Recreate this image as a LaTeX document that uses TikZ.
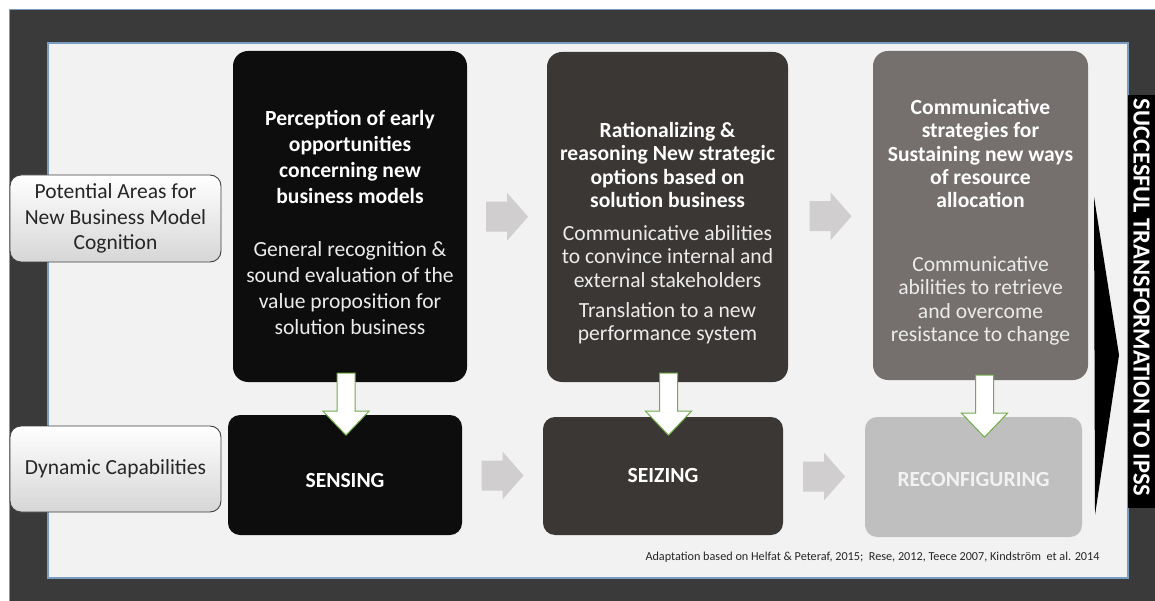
\documentclass[tikz,border=0pt]{standalone}
\usepackage{fontspec}
\setmainfont{Carlito}
\usetikzlibrary{calc}

\definecolor{framegray}{HTML}{3A3A3A}
\definecolor{panelgray}{HTML}{F2F2F2}
\definecolor{edgeblue}{HTML}{7A9CC0}
\definecolor{boxone}{HTML}{0D0D0D}
\definecolor{boxtwo}{HTML}{3B3735}
\definecolor{boxthree}{HTML}{75706E}
\definecolor{boxfour}{HTML}{BFBFBF}
\definecolor{arrowgray}{HTML}{D0CECE}
\definecolor{arrowgreen}{HTML}{70AD47}
\definecolor{lblline}{HTML}{404040}
\definecolor{lblbot}{HTML}{D6D6D6}
\definecolor{lbltext}{HTML}{262626}

\tikzset{
  box/.style={rectangle, rounded corners=15pt, inner sep=0pt},
  lowbox/.style={box, rounded corners=12pt, minimum height=120pt},
  lbl/.style={rectangle, rounded corners=11pt, draw=lblline, line width=0.9pt,
    top color=white, bottom color=lblbot, minimum width=211pt, minimum height=87pt,
    font=\fontsize{21.5}{25.5}\selectfont, text=lbltext, align=center, inner sep=0pt},
  head/.style={font=\fontsize{21.6}{23.3}\selectfont\bfseries, text=white, align=center},
  body/.style={font=\fontsize{21.6}{23.3}\selectfont, text=white!92!black, align=center},
  capword/.style={font=\fontsize{21.6}{24}\selectfont\bfseries, text=white},
  pics/grayarrow/.style={code={
    \fill[arrowgray] (-21,-15) -- (0,-15) -- (0,-24) -- (21,0) -- (0,24) -- (0,15) -- (-21,15) -- cycle;}},
  pics/greenarrow/.style={code={
    \filldraw[fill=white, draw=arrowgreen, line width=1pt, line join=miter]
      (-9,0) -- (9,0) -- (9,38) -- (23,38) -- (0,62) -- (-23,38) -- (-9,38) -- cycle;}},
}

\begin{document}
\begin{tikzpicture}[x=1pt, y=-1pt]
    \useasboundingbox (0,0) rectangle (1155,601);
    % frame and panel
    \filldraw[fill=framegray, draw=edgeblue, line width=0.8pt] (9,9) rectangle (1160,606);
    \filldraw[fill=panelgray, draw=edgeblue, line width=1.2pt] (48,43) rectangle (1128,578);
    \fill[black] (1128,95) rectangle (1155,508);
    \node[font=\fontsize{24.5}{26}\selectfont\bfseries, text=white, rotate=-90, inner sep=0pt] (ipss) at (1141.5,297.5)
        {SUCCESFUL TRANSFORMATION TO IPSS};
    \fill[black] (1094,197) -- (1119,355) -- (1095,515) -- cycle;

    % row labels
    \node[lbl] (areas) at (115.5,218.5) {Potential Areas for\\New Business Model\\Cognition};
    \node[lbl, minimum height=86pt] (dyncap) at (115.5,469) {Dynamic Capabilities};

    % upper boxes
    \node[box, fill=boxone, minimum width=234pt, minimum height=331pt] (perc) at (350,216.5) {};
    \node[box, fill=boxtwo, minimum width=241pt, minimum height=330pt] (rat) at (667.5,217) {};
    \node[box, fill=boxthree, minimum width=215pt, minimum height=329pt] (comm) at (980.5,215.5) {};

    % lower boxes
    \node[lowbox, fill=boxone, minimum width=234pt] (sensing) at (345,475) {};
    \node[lowbox, fill=boxtwo, minimum width=240pt, minimum height=118pt] (seizing) at (663,476) {};
    \node[lowbox, fill=boxfour, minimum width=217pt] (reconf) at (973.5,477) {};

    % gray arrows between the columns
    \pic at ($(perc.east)!0.5!(rat.west)$) {grayarrow};
    \pic at ($(rat.east)!0.5!(comm.west)$) {grayarrow};
    \pic at ($(sensing.east)!0.5!(seizing.west)$) {grayarrow};
    \pic at ($(seizing.east)!0.5!(reconf.west)$) {grayarrow};

    % green arrows down into the capabilities
    \pic at ([xshift=-4pt, yshift=9pt]perc.south) {greenarrow};
    \pic at ([xshift=1pt, yshift=9pt]rat.south) {greenarrow};
    \pic at ([xshift=4pt, yshift=5pt]comm.south) {greenarrow};

    % texts
    \node[head, font=\fontsize{21.6}{26}\selectfont\bfseries] (perchead) at (350,157)
        {Perception of early\\opportunities\\concerning new\\business models};
    \node[body, font=\fontsize{21.6}{26}\selectfont] (percbody) at (350,288)
        {General recognition \&\\sound evaluation of the\\value proposition for\\solution business};
    \node[head] (rathead) at (667.5,165)
        {Rationalizing \&\\reasoning New strategic\\options based on\\solution business};
    \node[body] (ratbody) at (667.5,256.5)
        {Communicative abilities\\to convince internal and\\external stakeholders};
    \node[body] (ratbodyb) at (667.5,323.5) {Translation to a new\\performance system};
    \node[head] (commhead) at (980.5,153.5)
        {Communicative\\strategies for\\Sustaining new ways\\of resource\\allocation};
    \node[body] (commbody) at (980.5,301)
        {Communicative\\abilities to retrieve\\and overcome\\resistance to change};

    \node[capword] (sensingtxt) at (345,480) {SENSING};
    \node[capword] (seizingtxt) at (663,475) {SEIZING};
    \node[capword, text=panelgray] (reconftxt) at (973.5,479) {RECONFIGURING};

    \node[font=\fontsize{12.2}{14}\selectfont, text=lbltext] (source) at (872.5,557)
        {Adaptation based on Helfat \& Peteraf, 2015;\ \ Rese, 2012, Teece 2007, Kindstr\"om\ \ et al. 2014};
\end{tikzpicture}
\end{document}
